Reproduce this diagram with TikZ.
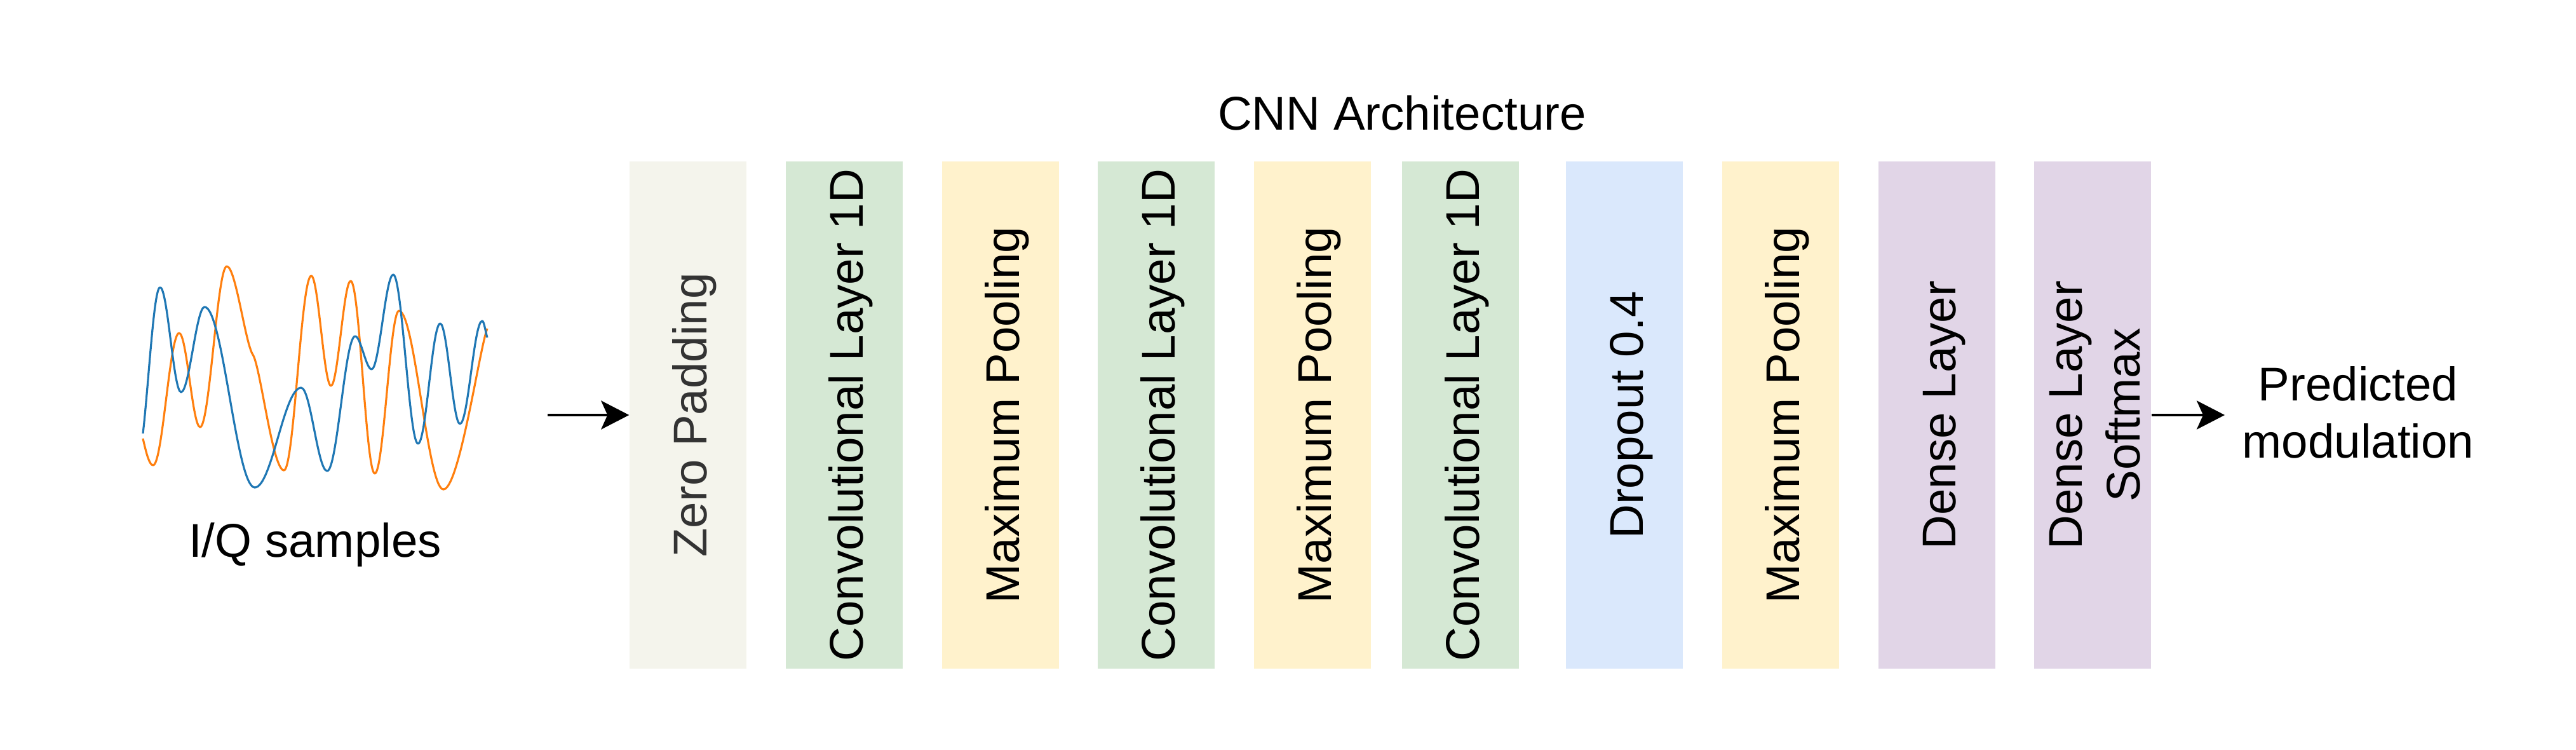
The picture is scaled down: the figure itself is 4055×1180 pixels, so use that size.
\documentclass[tikz,border=0pt]{standalone}
\usepackage{fontspec}
\setmainfont{Liberation Sans}
\usetikzlibrary{arrows.meta}
\definecolor{zpfill}{HTML}{F4F4EC}
\definecolor{zptext}{HTML}{333333}
\definecolor{convfill}{HTML}{D5E8D4}
\definecolor{poolfill}{HTML}{FFF2CC}
\definecolor{dropfill}{HTML}{DAE8FC}
\definecolor{densefill}{HTML}{E1D5E7}
\definecolor{iqblue}{HTML}{1F77B4}
\definecolor{iqorange}{HTML}{FF7F0E}
\newcommand{\vlabel}[1]{\hspace*{1.1mm}\rotatebox{90}{\begin{tabular}{@{}c@{}}#1\end{tabular}}\hspace*{-1.1mm}}

\begin{document}
\begin{tikzpicture}[x=0.1mm,y=-0.1mm,
    every node/.style={font=\fontsize{21.2}{25.8}\selectfont},
    layer/.style={minimum width=18.4mm,minimum height=79.8mm,inner sep=0pt},
    arr/.style={line width=1.3pt,-{Stealth[length=4.4mm,width=4.5mm,inset=1mm]}},
    wave/.style={line width=0.9pt,line join=round}]
  \useasboundingbox (0,0) rectangle (4055,1180);
  % I/Q samples
  \draw[wave,iqorange] (225,690) .. controls +(5,22) and +(-6,0) .. (241,732)
    .. controls +(15,0) and +(-15,0) .. (282,524)
    .. controls +(12,0) and +(-12,0) .. (315,672)
    .. controls +(15,0) and +(-15,0) .. (357,419)
    .. controls +(14,0) and +(-12,-18) .. (398,558)
    .. controls +(12,18) and +(-18,0) .. (447,740)
    .. controls +(16,0) and +(-16,0) .. (490,434)
    .. controls +(11,0) and +(-11,0) .. (521,607)
    .. controls +(11,0) and +(-11,0) .. (552,442)
    .. controls +(14,0) and +(-14,0) .. (590,745)
    .. controls +(14,0) and +(-14,0) .. (628,489)
    .. controls +(25,0) and +(-25,0) .. (698,770)
    .. controls +(25,0) and +(-12,30) .. (767,517);
  \draw[wave,iqblue] (225,682) .. controls +(9,-77) and +(-10,0) .. (252,452)
    .. controls +(12,0) and +(-12,0) .. (285,617)
    .. controls +(13,0) and +(-13,0) .. (322,483)
    .. controls +(29,0) and +(-29,0) .. (401,767)
    .. controls +(27,0) and +(-27,0) .. (474,610)
    .. controls +(15,0) and +(-15,0) .. (515,741)
    .. controls +(16,0) and +(-16,0) .. (559,529)
    .. controls +(9,0) and +(-9,0) .. (585,581)
    .. controls +(12,0) and +(-12,0) .. (619,432)
    .. controls +(14,0) and +(-14,0) .. (658,698)
    .. controls +(13,0) and +(-13,0) .. (693,509)
    .. controls +(11,0) and +(-11,0) .. (724,667)
    .. controls +(13,0) and +(-13,0) .. (759,505)
    .. controls +(3,0) and +(-3,-10) .. (767,531);
  \node[anchor=base] (iq) at (496,876) {I/Q samples};
  % layers
  \node[anchor=base] (title) at (2207,205) {CNN Architecture};
  \node[layer,fill=zpfill,text=zptext] (zp) at (1083,653) {\vlabel{Zero Padding}};
  \node[layer,fill=convfill] (c1) at (1329,653) {\vlabel{Convolutional Layer 1D}};
  \node[layer,fill=poolfill] (p1) at (1575,653) {\vlabel{Maximum Pooling}};
  \node[layer,fill=convfill] (c2) at (1820,653) {\vlabel{Convolutional Layer 1D}};
  \node[layer,fill=poolfill] (p2) at (2066,653) {\vlabel{Maximum Pooling}};
  \node[layer,fill=convfill] (c3) at (2299,653) {\vlabel{Convolutional Layer 1D}};
  \node[layer,fill=dropfill] (dr) at (2557,653) {\vlabel{Dropout 0.4}};
  \node[layer,fill=poolfill] (p3) at (2803,653) {\vlabel{Maximum Pooling}};
  \node[layer,fill=densefill] (d1) at (3049,653) {\vlabel{Dense Layer}};
  \node[layer,fill=densefill] (d2) at (3294,653) {\vlabel{Dense Layer\\Softmax}};
  \node[align=center,inner sep=2.7mm] (pred) at (3712,649) {Predicted\\modulation};
  % arrows
  \coordinate (in) at (862,653);
  \draw[arr] (in) -- (zp);
  \draw[arr] (d2.east) -- (d2.east -| pred.west);
\end{tikzpicture}
\end{document}
